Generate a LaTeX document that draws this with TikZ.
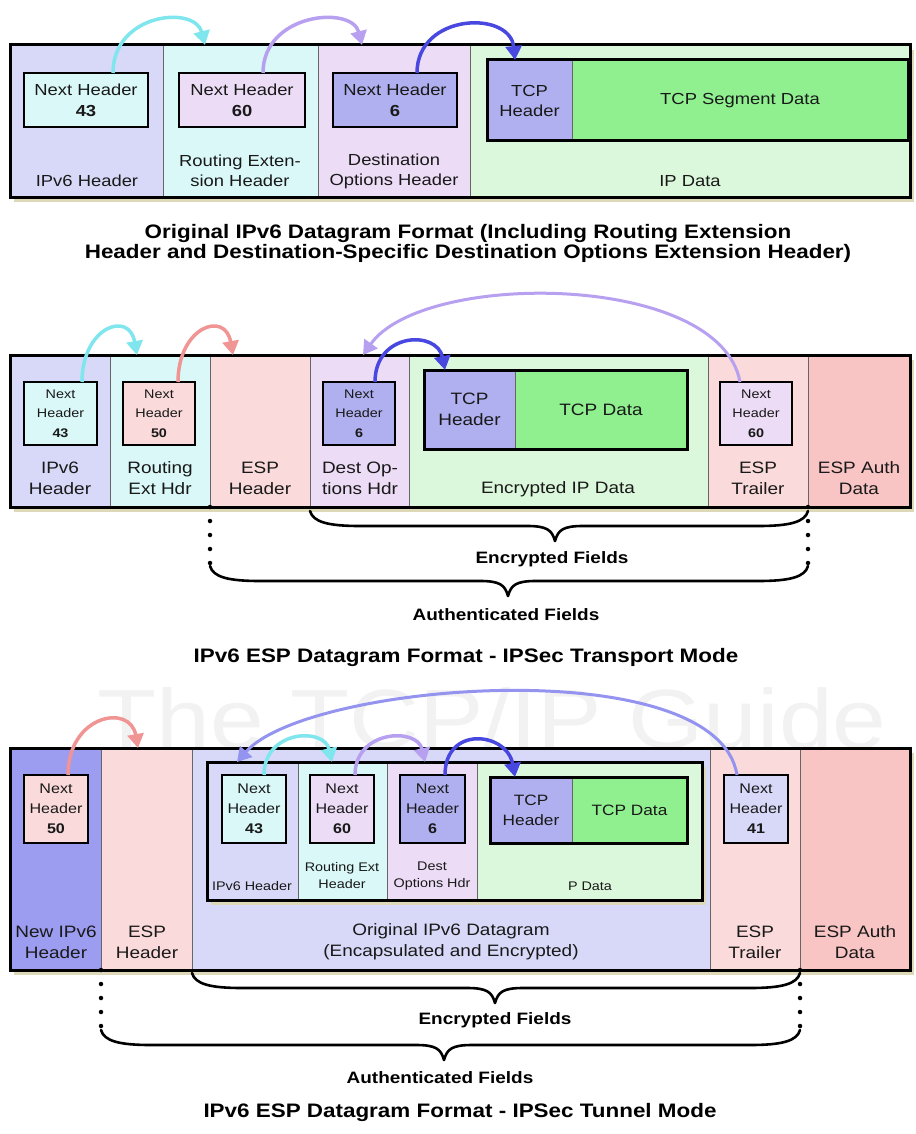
\documentclass[tikz,border=0pt]{standalone}
\usepackage{fontspec}
\setmainfont{Liberation Sans}[FakeStretch=1.15]
\usetikzlibrary{arrows.meta,calc}
\definecolor{lav}{HTML}{D8D8F8}
\definecolor{cyl}{HTML}{DAF8F8}
\definecolor{prl}{HTML}{ECDCF6}
\definecolor{grl}{HTML}{DCF8DC}
\definecolor{tcph}{HTML}{B0B0F0}
\definecolor{tcpd}{HTML}{90F090}
\definecolor{pkl}{HTML}{FADADA}
\definecolor{pkm}{HTML}{F8C4C4}
\definecolor{blm}{HTML}{9C9CF0}
\definecolor{acy}{HTML}{80E6EE}
\definecolor{apr}{HTML}{B8A0F0}
\definecolor{abl}{HTML}{4848E0}
\definecolor{asa}{HTML}{F09494}
\definecolor{alv}{HTML}{9494F0}
\definecolor{shad}{HTML}{DCD8B8}
\definecolor{wmk}{HTML}{F2F2F2}
\newcommand\fs[2]{\fontsize{#1}{#2}\selectfont}
\newcommand\bx[7][]{\node[colbox,fill=#7,minimum width={#5-#3},minimum height={#6-#4},#1] (#2) at (#3,#4) {};}
\newcommand\bracedraw[4]{%
 \draw[brc] (#1,#4) .. controls (#1+3,#4+11) and (#1+18,#4+15) .. (#1+50,#4+15)
 -- (#3-28,#4+15) .. controls (#3-8,#4+15) and (#3-3,#4+19) .. (#3,#4+30)
 .. controls (#3+3,#4+19) and (#3+8,#4+15) .. (#3+28,#4+15)
 -- (#2-50,#4+15) .. controls (#2-18,#4+15) and (#2-3,#4+11) .. (#2,#4);}
\tikzset{
 colbox/.style={draw=black!60, line width=1pt, anchor=north west, inner sep=0pt, outer sep=0pt},
 frame/.style={draw=black, line width=3pt},
 nhbox/.style={draw=black, line width=2.5pt, anchor=north west, inner sep=0pt, outer sep=0pt, align=center, text=black!90},
 lbl/.style={align=center, inner sep=0pt, text=black!90},
 arr/.style={line width=3.5pt, -{Triangle[length=14pt,width=16pt]}},
 brc/.style={line width=2.6pt, line cap=round, line join=round},
 dots/.style={line width=4.5pt, line cap=round, dash pattern=on 0pt off 14pt},
 ttl/.style={font=\bfseries\fs{19.5}{20}, align=center, inner sep=0pt, text=black},
 fld/.style={font=\bfseries\fs{16.5}{20}, inner sep=0pt, text=black},
}
\begin{document}
\begin{tikzpicture}[x=1pt,y=-1pt]
\useasboundingbox (0,0) rectangle (915,1134);
\fill[white] (0,0) rectangle (915,1134);

% ================= Section 1 =================
\fill[shad] (14,50) rectangle (914,202);
\bx{c11}{10}{45}{163}{197}{lav}
\bx{c12}{163}{45}{318}{197}{cyl}
\bx{c13}{318}{45}{470}{197}{prl}
\bx{c14}{470}{45}{910}{197}{grl}
\draw[frame] (c11.north west) rectangle (c14.south east);
\node[nhbox,fill=cyl,minimum width=124,minimum height=54,font=\fs{16}{21}] (n11) at (24,73) {Next Header\\\textbf{43}};
\node[nhbox,fill=prl,minimum width=126,minimum height=54,font=\fs{16}{21}] (n12) at (179,73) {Next Header\\\textbf{60}};
\node[nhbox,fill=tcph,minimum width=124,minimum height=54,font=\fs{16}{21}] (n13) at (333,73) {Next Header\\\textbf{6}};
\node[lbl,font=\fs{16}{20}] (l11) at (87,181) {IPv6 Header};
\node[lbl,font=\fs{16}{20}] (l12) at (240,171) {Routing Exten-\\sion Header};
\node[lbl,font=\fs{16}{20}] (l13) at (394,171) {Destination\\Options Header};
\node[lbl,font=\fs{16}{20}] (l14) at (690,181) {IP Data};
\node[colbox,draw=none,fill=tcph,minimum width=85,minimum height=81] (t1h) at (487,60) {};
\node[colbox,draw=none,fill=tcpd,minimum width=336,minimum height=81] (t1d) at (572,60) {};
\draw[black!60,line width=1pt] (t1h.north east) -- (t1h.south east);
\draw[frame] (t1h.north west) rectangle (t1d.south east);
\node[lbl,font=\fs{16}{20}] (t1hl) at (t1h) {TCP\\Header};
\node[lbl,font=\fs{16}{20}] (t1dl) at (t1d) {TCP Segment Data};
\draw[arr,acy] ([xshift=27]n11.north) .. controls +(0,-60) and +(-10,-40) .. ([xshift=42]c12.north west);
\draw[arr,apr] ([xshift=21]n12.north) .. controls +(0,-60) and +(-10,-40) .. ([xshift=44]c13.north west);
\draw[arr,abl] ([xshift=22]n13.north) .. controls +(0,-60) and +(-5,-50) .. ([xshift=28]t1h.north west);
\node[ttl] (ttl1) at (468,243) {Original IPv6 Datagram Format (Including Routing Extension\\Header and Destination-Specific Destination Options Extension Header)};

% ================= Section 2 =================
\fill[shad] (14,360) rectangle (914,512);
\bx{c21}{10}{355}{110}{507}{lav}
\bx{c22}{110}{355}{210}{507}{cyl}
\bx{c23}{210}{355}{310}{507}{pkl}
\bx{c24}{310}{355}{409}{507}{prl}
\bx{c25}{409}{355}{708}{507}{grl}
\bx{c26}{708}{355}{808}{507}{pkl}
\bx{c27}{808}{355}{910}{507}{pkm}
\draw[frame] (c21.north west) rectangle (c27.south east);
\node[nhbox,fill=cyl,minimum width=73,minimum height=63,font=\fs{12.5}{19.5}] (n21) at (24,382) {Next\\Header\\\textbf{43}};
\node[nhbox,fill=pkl,minimum width=72,minimum height=63,font=\fs{12.5}{19.5}] (n22) at (123,382) {Next\\Header\\\textbf{50}};
\node[nhbox,fill=tcph,minimum width=72,minimum height=63,font=\fs{12.5}{19.5}] (n23) at (323,382) {Next\\Header\\\textbf{6}};
\node[nhbox,fill=prl,minimum width=72,minimum height=63,font=\fs{12.5}{19.5}] (n24) at (720,382) {Next\\Header\\\textbf{60}};
\node[lbl,font=\fs{16.5}{21}] (l21) at (60,478) {IPv6\\Header};
\node[lbl,font=\fs{16.5}{21}] (l22) at (160,478) {Routing\\Ext Hdr};
\node[lbl,font=\fs{16.5}{21}] (l23) at (260,478) {ESP\\Header};
\node[lbl,font=\fs{16.5}{21}] (l24) at (360,478) {Dest Op-\\tions Hdr};
\node[lbl,font=\fs{16.5}{21}] (l25) at (558,489) {Encrypted IP Data};
\node[lbl,font=\fs{16.5}{21}] (l26) at (758,478) {ESP\\Trailer};
\node[lbl,font=\fs{16.5}{21}] (l27) at (859,478) {ESP Auth\\Data};
\node[colbox,draw=none,fill=tcph,minimum width=91,minimum height=79] (t2h) at (424,370) {};
\node[colbox,draw=none,fill=tcpd,minimum width=172,minimum height=79] (t2d) at (515,370) {};
\draw[black!60,line width=1pt] (t2h.north east) -- (t2h.south east);
\draw[frame] (t2h.north west) rectangle (t2d.south east);
\node[lbl,font=\fs{16.5}{21}] (t2hl) at (t2h) {TCP\\Header};
\node[lbl,font=\fs{16.5}{21}] (t2dl) at (t2d) {TCP Data};
\draw[arr,acy] ([xshift=21.5]n21.north) .. controls +(0,-55) and +(-8,-45) .. ([xshift=27]c22.north west);
\draw[arr,asa] ([xshift=19]n22.north) .. controls +(0,-55) and +(-8,-45) .. ([xshift=23]c23.north west);
\draw[arr,abl] ([xshift=16]n23.north) .. controls +(0,-50) and +(-8,-40) .. ([xshift=21]t2h.north west);
\draw[arr,apr,line width=3pt] ([xshift=-16]n24.north) .. controls +(-20,-110) and +(60,-85) .. ([xshift=53]c24.north west);
\draw[dots] (c23.south west) -- ++(0,58);
\draw[dots] (c27.south west) -- ++(0,58);
\bracedraw{310}{808}{555}{511}
\bracedraw{210}{808}{508}{566}
\node[fld] (e2) at (552,559) {Encrypted Fields};
\node[fld] (a2) at (506,615) {Authenticated Fields};
\node[ttl] (ttl2) at (466,657) {IPv6 ESP Datagram Format - IPSec Transport Mode};

% ================= Section 3 =================
\node[anchor=base,inner sep=0pt,text=wmk,font=\fs{84}{84}] (wm) at (492,748) {The TCP/IP Guide};
\fill[shad] (14,753) rectangle (914,975);
\bx{c31}{10}{748}{101}{970}{blm}
\bx{c32}{101}{748}{192}{970}{pkl}
\bx{c33}{192}{748}{710}{970}{lav}
\bx{c34}{710}{748}{800}{970}{pkl}
\bx{c35}{800}{748}{910}{970}{pkm}
\draw[frame] (c31.north west) rectangle (c35.south east);
\fill[shad] (211,767) rectangle (706,905);
\bx{d1}{207}{762}{298}{900}{lav}
\bx{d2}{298}{762}{387}{900}{cyl}
\bx{d3}{387}{762}{477}{900}{prl}
\bx{d4}{477}{762}{702}{900}{grl}
\draw[frame] (d1.north west) rectangle (d4.south east);
\node[nhbox,fill=pkl,minimum width=64,minimum height=68,font=\fs{14}{20}] (n31) at (24,775) {Next\\Header\\\textbf{50}};
\node[nhbox,fill=cyl,minimum width=64,minimum height=68,font=\fs{14}{20}] (n32) at (222,775) {Next\\Header\\\textbf{43}};
\node[nhbox,fill=prl,minimum width=64,minimum height=68,font=\fs{14}{20}] (n33) at (310,775) {Next\\Header\\\textbf{60}};
\node[nhbox,fill=tcph,minimum width=65,minimum height=68,font=\fs{14}{20}] (n34) at (400,775) {Next\\Header\\\textbf{6}};
\node[nhbox,fill=lav,minimum width=64,minimum height=68,font=\fs{14}{20}] (n35) at (724,775) {Next\\Header\\\textbf{41}};
\node[colbox,draw=none,fill=tcph,minimum width=82,minimum height=66] (t3h) at (490,777) {};
\node[colbox,draw=none,fill=tcpd,minimum width=115,minimum height=66] (t3d) at (572,777) {};
\draw[black!60,line width=1pt] (t3h.north east) -- (t3h.south east);
\draw[frame] (t3h.north west) rectangle (t3d.south east);
\node[lbl,font=\fs{15}{20}] (t3hl) at (t3h) {TCP\\Header};
\node[lbl,font=\fs{15}{20}] (t3dl) at (t3d) {TCP Data};
\node[lbl,font=\fs{12.5}{17}] (m1) at (252,886) {IPv6 Header};
\node[lbl,font=\fs{12.5}{17}] (m2) at (342,876) {Routing Ext\\Header};
\node[lbl,font=\fs{12.5}{17}] (m3) at (432,876) {Dest\\Options Hdr};
\node[lbl,font=\fs{12.5}{17}] (m4) at (590,886) {P Data};
\node[lbl,font=\fs{16.5}{21}] (l31) at (56,942) {New IPv6\\Header};
\node[lbl,font=\fs{16.5}{21}] (l32) at (147,942) {ESP\\Header};
\node[lbl,font=\fs{16.5}{21}] (l33) at (451,942) {Original IPv6 Datagram\\(Encapsulated and Encrypted)};
\node[lbl,font=\fs{16.5}{21}] (l34) at (755,942) {ESP\\Trailer};
\node[lbl,font=\fs{16.5}{21}] (l35) at (855,942) {ESP Auth\\Data};
\draw[arr,asa] ([xshift=12]n31.north) .. controls +(0,-60) and +(-8,-45) .. ([xshift=37]c32.north west);
\draw[arr,alv,line width=3pt] ([xshift=-19]n35.north) .. controls +(-20,-125) and +(70,-80) .. ([xshift=30]d1.north west);
\draw[arr,acy] ([xshift=10]n32.north) .. controls +(0,-45) and +(-8,-35) .. ([xshift=34]d2.north west);
\draw[arr,apr] ([xshift=13]n33.north) .. controls +(0,-45) and +(-8,-35) .. ([xshift=38]d3.north west);
\draw[arr,abl] ([xshift=12.5]n34.north) .. controls +(0,-50) and +(-8,-45) .. ([xshift=25]t3h.north west);
\draw[dots] (c32.south west) -- ++(0,58);
\draw[dots] (c35.south west) -- ++(0,58);
\bracedraw{192}{800}{495}{973}
\bracedraw{101}{800}{444}{1030}
\node[fld] (e3) at (495,1020) {Encrypted Fields};
\node[fld] (a3) at (440,1078) {Authenticated Fields};
\node[ttl] (ttl3) at (460,1112) {IPv6 ESP Datagram Format - IPSec Tunnel Mode};
\end{tikzpicture}
\end{document}
